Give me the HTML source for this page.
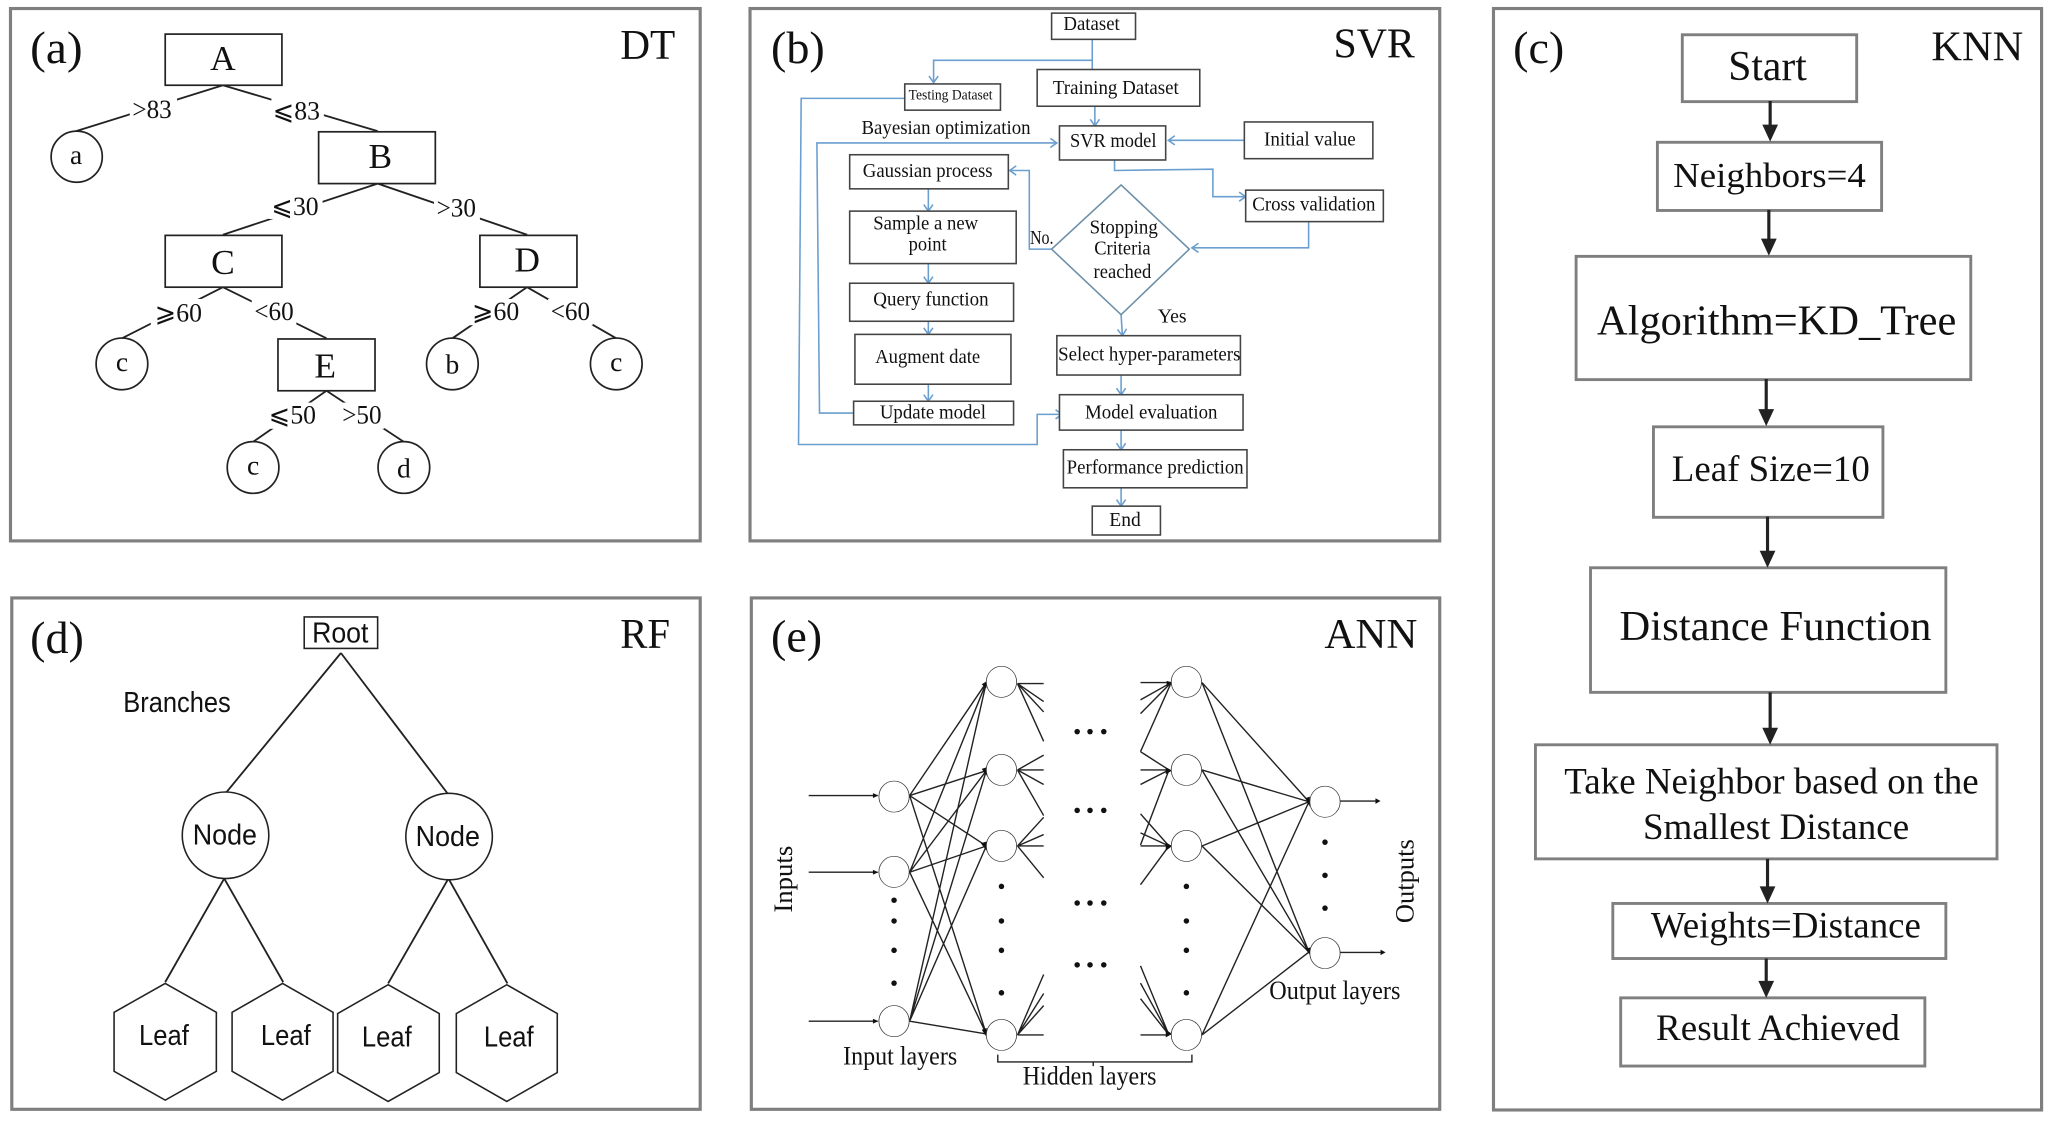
<!DOCTYPE html>
<html><head><meta charset="utf-8"><title>Model diagrams</title>
<style>
html,body{margin:0;padding:0;background:#fff;overflow:hidden}
svg{display:block}
text{font-family:"Liberation Serif","DejaVu Serif","Noto Serif CJK SC",serif;fill:#111}
.p{fill:none;stroke:#7f7f7f;stroke-width:2.4}
.k{fill:#fff;stroke:#7f7f7f;stroke-width:2.2}
.s{fill:#fff;stroke:#222;stroke-width:1.3}
.b{fill:#fff;stroke:#444;stroke-width:1.2}
.l{stroke:#222;stroke-width:1.4;fill:none}
.u{fill:none;stroke:#6a9fcf;stroke-width:1.2}
.n{stroke:#222;stroke-width:1.4;fill:none;vector-effect:non-scaling-stroke}
.c{fill:#fff;stroke:#333;stroke-width:1.7;vector-effect:non-scaling-stroke}
.sans{font-family:"Liberation Sans",sans-serif}
</style></head><body>
<svg xmlns="http://www.w3.org/2000/svg" width="2056" height="1121" viewBox="0 0 1568 854.9">
<defs>
<marker id="o" markerUnits="userSpaceOnUse" markerWidth="10" markerHeight="10" refX="7" refY="5" orient="auto"><path d="M2 1.5 L7 5 L2 8.5" fill="none" stroke="#6a9fcf" stroke-width="1.2"/></marker>
</defs>
<rect width="1568" height="855" fill="#fff"/>

<!-- panels -->
<rect class="p" x="8" y="6.5" width="526" height="406"/>
<rect class="p" x="572" y="6.5" width="526" height="406"/>
<rect class="p" x="1139" y="6.5" width="418" height="840"/>
<rect class="p" x="9" y="456" width="525" height="390"/>
<rect class="p" x="573" y="456" width="525" height="390"/>

<text x="23" y="48" font-size="35" textLength="40" lengthAdjust="spacingAndGlyphs">(a)</text>
<text x="473" y="45" font-size="32" textLength="42" lengthAdjust="spacingAndGlyphs">DT</text>
<text x="588" y="48" font-size="35" textLength="41" lengthAdjust="spacingAndGlyphs">(b)</text>
<text x="1017" y="44" font-size="32" textLength="62" lengthAdjust="spacingAndGlyphs">SVR</text>
<text x="1154" y="48" font-size="35" textLength="39" lengthAdjust="spacingAndGlyphs">(c)</text>
<text x="1473" y="46" font-size="32" textLength="70" lengthAdjust="spacingAndGlyphs">KNN</text>
<text x="23" y="498" font-size="35" textLength="41" lengthAdjust="spacingAndGlyphs">(d)</text>
<text x="473" y="494" font-size="32" textLength="38" lengthAdjust="spacingAndGlyphs">RF</text>
<text x="588" y="497" font-size="35" textLength="39" lengthAdjust="spacingAndGlyphs">(e)</text>
<text x="1010" y="494" font-size="32" textLength="71" lengthAdjust="spacingAndGlyphs">ANN</text>

<!-- (a) DT -->
<g class="l">
<path d="M170 65 L58 100 M170 65 L288 100 M288 140 L170 179 M288 140 L402 179 M170 219 L93 258 M170 219 L249 258 M402 219 L345 258 M402 219 L470 258 M249 298 L193 337 M249 298 L308 337"/>
</g>
<g fill="#fff">
<rect x="99" y="74" width="36" height="20"/><rect x="207" y="74" width="40" height="20"/>
<rect x="205" y="147" width="41" height="20"/><rect x="331" y="149" width="35" height="20"/>
<rect x="115" y="228" width="43" height="20"/><rect x="192" y="228" width="34" height="20"/>
<rect x="357" y="228" width="42" height="20"/><rect x="418" y="228" width="34" height="20"/>
<rect x="203" y="307" width="40" height="20"/><rect x="259" y="307" width="34" height="20"/>
</g>
<g class="s">
<rect x="126" y="26" width="89" height="39"/><rect x="243" y="100.500" width="89" height="39.500"/>
<rect x="126" y="179.500" width="89" height="39.500"/><rect x="366" y="179.500" width="74" height="39.500"/>
<rect x="212" y="258.500" width="74" height="39.500"/>
<circle cx="58.500" cy="119.500" r="19.500"/><circle cx="93" cy="277.500" r="19.700"/><circle cx="345" cy="277.500" r="19.700"/>
<circle cx="470" cy="277.500" r="19.700"/><circle cx="193" cy="356.500" r="19.700"/><circle cx="308" cy="356.500" r="19.700"/>
</g>
<g font-size="27" text-anchor="middle">
<text x="170" y="53.500">A</text><text x="290" y="128">B</text><text x="170" y="209">C</text><text x="402" y="207">D</text><text x="248" y="288">E</text>
</g>
<g font-size="21" text-anchor="middle">
<text x="58" y="125">a</text><text x="93" y="283">c</text><text x="345" y="285">b</text><text x="470" y="283">c</text><text x="193" y="362">c</text><text x="308" y="364">d</text>
</g>
<g font-size="20">
<text x="101" y="90" textLength="30" lengthAdjust="spacingAndGlyphs">&gt;83</text><text x="208" y="91" textLength="36" lengthAdjust="spacingAndGlyphs">⩽83</text>
<text x="207" y="164" textLength="36" lengthAdjust="spacingAndGlyphs">⩽30</text><text x="333" y="165" textLength="30" lengthAdjust="spacingAndGlyphs">&gt;30</text>
<text x="118" y="245" textLength="36" lengthAdjust="spacingAndGlyphs">⩾60</text><text x="194" y="244" textLength="30" lengthAdjust="spacingAndGlyphs">&lt;60</text>
<text x="360" y="244" textLength="36" lengthAdjust="spacingAndGlyphs">⩾60</text><text x="420" y="244" textLength="30" lengthAdjust="spacingAndGlyphs">&lt;60</text>
<text x="205" y="323" textLength="36" lengthAdjust="spacingAndGlyphs">⩽50</text><text x="261" y="323" textLength="30" lengthAdjust="spacingAndGlyphs">&gt;50</text>
</g>

<!-- (b) SVR -->
<g class="u">
<path d="M833 30 V53 M833 46 H712 V63" marker-end="url(#o)"/>
<path d="M690 75 H611 L609 339 H791 V316 H810" marker-end="url(#o)"/>
<path d="M835 81 V96" marker-end="url(#o)"/>
<path d="M651 315 L625 315 L623 109 H806" marker-end="url(#o)"/>
<path d="M949 107 H891" marker-end="url(#o)"/>
<path d="M850 122 V130 L925 129 V150 H950" marker-end="url(#o)"/>
<path d="M998 169 V189 H909" marker-end="url(#o)"/>
<path d="M802 190 H785 V130 H770" marker-end="url(#o)"/>
<path d="M708 144 V161" marker-end="url(#o)"/>
<path d="M708 201 V216" marker-end="url(#o)"/>
<path d="M708 245 V255" marker-end="url(#o)"/>
<path d="M708 293 V306" marker-end="url(#o)"/>
<path d="M855 240 L856 256" marker-end="url(#o)"/>
<path d="M855 286 V301" marker-end="url(#o)"/>
<path d="M855 328 V343" marker-end="url(#o)"/>
<path d="M855 372 V386" marker-end="url(#o)"/>
</g>
<polygon points="855,141 907,190 855,240 802,190" fill="#fff" stroke="#6d8fa8" stroke-width="1.2"/>
<g class="b">
<rect x="802" y="10" width="64" height="20"/><rect x="791" y="53" width="124" height="28"/>
<rect x="690" y="64" width="73" height="20"/><rect x="808" y="96" width="81" height="26"/>
<rect x="949" y="93" width="98" height="28"/><rect x="648" y="118" width="121" height="26"/>
<rect x="648" y="161" width="127" height="40"/><rect x="648" y="216" width="125" height="29"/>
<rect x="652" y="255" width="119" height="38"/><rect x="651" y="306" width="122" height="18"/>
<rect x="806" y="256" width="140" height="30"/><rect x="808" y="301" width="140" height="27"/>
<rect x="811" y="343" width="140" height="29"/><rect x="833" y="386" width="52" height="22"/>
<rect x="950" y="145" width="105" height="24"/>
</g>
<g font-size="15">
<text x="811" y="23" textLength="43" lengthAdjust="spacingAndGlyphs">Dataset</text>
<text x="803" y="71.500" textLength="96" lengthAdjust="spacingAndGlyphs">Training Dataset</text>
<text x="693" y="76" font-size="11" textLength="64" lengthAdjust="spacingAndGlyphs">Testing Dataset</text>
<text x="657" y="102" textLength="129" lengthAdjust="spacingAndGlyphs">Bayesian optimization</text>
<text x="816" y="112" textLength="66" lengthAdjust="spacingAndGlyphs">SVR model</text>
<text x="964" y="111" textLength="70" lengthAdjust="spacingAndGlyphs">Initial value</text>
<text x="658" y="135" textLength="99" lengthAdjust="spacingAndGlyphs">Gaussian process</text>
<text x="666" y="175" textLength="80" lengthAdjust="spacingAndGlyphs">Sample a new</text>
<text x="693" y="191" textLength="29" lengthAdjust="spacingAndGlyphs">point</text>
<text x="666" y="233" textLength="88" lengthAdjust="spacingAndGlyphs">Query function</text>
<text x="955" y="160.500" textLength="94" lengthAdjust="spacingAndGlyphs">Cross validation</text>
<text x="785.500" y="186" textLength="18" lengthAdjust="spacingAndGlyphs">No.</text>
<text x="831" y="178" textLength="52" lengthAdjust="spacingAndGlyphs">Stopping</text>
<text x="834.500" y="194" textLength="43" lengthAdjust="spacingAndGlyphs">Criteria</text>
<text x="834" y="212" textLength="44" lengthAdjust="spacingAndGlyphs">reached</text>
<text x="883" y="246" textLength="22" lengthAdjust="spacingAndGlyphs">Yes</text>
<text x="667.500" y="277" textLength="80" lengthAdjust="spacingAndGlyphs">Augment date</text>
<text x="807" y="275" textLength="139" lengthAdjust="spacingAndGlyphs">Select hyper-parameters</text>
<text x="671" y="319" textLength="81" lengthAdjust="spacingAndGlyphs">Update model</text>
<text x="827.500" y="319" textLength="101" lengthAdjust="spacingAndGlyphs">Model evaluation</text>
<text x="813.500" y="361" textLength="135" lengthAdjust="spacingAndGlyphs">Performance prediction</text>
<text x="846" y="401" textLength="24" lengthAdjust="spacingAndGlyphs">End</text>
</g>

<!-- (c) KNN -->
<g class="k">
<rect x="1283" y="26.500" width="133" height="51"/><rect x="1264" y="108.500" width="171" height="52"/>
<rect x="1202" y="195.500" width="301" height="94"/><rect x="1261" y="325.500" width="175" height="69"/>
<rect x="1213" y="433" width="271" height="95"/><rect x="1171" y="568" width="352" height="87"/>
<rect x="1230" y="689" width="254" height="42"/><rect x="1236" y="761" width="232" height="52"/>
</g>
<g stroke="#222" stroke-width="2.4" fill="#222">
<path d="M1350 77 V96 M1349 160 V183 M1347 289 V313 M1348 394 V421 M1350 528 V556 M1348 655 V677 M1347 731 V749"/>
</g>
<g fill="#222">
<polygon points="1344,95 1356,95 1350,108"/><polygon points="1343,182 1355,182 1349,195"/>
<polygon points="1341,312 1353,312 1347,325"/><polygon points="1342,420 1354,420 1348,433"/>
<polygon points="1344,555 1356,555 1350,568"/><polygon points="1342,676 1354,676 1348,689"/>
<polygon points="1341,748 1353,748 1347,761"/>
</g>
<text x="1318" y="61" font-size="32" textLength="60" lengthAdjust="spacingAndGlyphs">Start</text>
<text x="1276" y="142.500" font-size="27" textLength="147" lengthAdjust="spacingAndGlyphs">Neighbors=4</text>
<text x="1218" y="255" font-size="32" textLength="274" lengthAdjust="spacingAndGlyphs">Algorithm=KD_Tree</text>
<text x="1275" y="367" font-size="28" textLength="151" lengthAdjust="spacingAndGlyphs">Leaf Size=10</text>
<text x="1235" y="488" font-size="32" textLength="238" lengthAdjust="spacingAndGlyphs">Distance Function</text>
<text x="1193" y="605" font-size="28" textLength="316" lengthAdjust="spacingAndGlyphs">Take Neighbor based on the</text>
<text x="1253" y="640" font-size="28" textLength="203" lengthAdjust="spacingAndGlyphs">Smallest Distance</text>
<text x="1259" y="715" font-size="28" textLength="206" lengthAdjust="spacingAndGlyphs">Weights=Distance</text>
<text x="1263" y="793" font-size="28" textLength="186" lengthAdjust="spacingAndGlyphs">Result Achieved</text>

<!-- (d) RF -->
<g class="l" stroke-width="1.2">
<path d="M260 498 L172 605 M260 498 L342 606 M171 670 L126 749 M171 670 L216 749 M342 670 L296 750 M342 670 L387 750"/>
</g>
<rect x="232" y="470.500" width="56" height="24" fill="#fff" stroke="#222" stroke-width="1.2"/>
<g fill="#fff" stroke="#222" stroke-width="1.2">
<ellipse cx="172" cy="637" rx="33" ry="33"/><ellipse cx="342.500" cy="638" rx="33" ry="33"/>
<polygon points="126,750 165,772 165,817 126,839 87,817 87,772"/>
<polygon points="215.500,750 254,772 254,817 215.500,839 177,817 177,772"/>
<polygon points="296,751 335,773 335,818 296,840 257.500,818 257.500,773"/>
<polygon points="386.500,751 425,773 425,818 386.500,840 348,818 348,773"/>
</g>
<g class="sans" font-size="22" fill="#222">
<text class="sans" x="238" y="490" textLength="43" lengthAdjust="spacingAndGlyphs">Root</text>
<text class="sans" x="94" y="543" textLength="82" lengthAdjust="spacingAndGlyphs">Branches</text>
<text class="sans" x="147" y="644" textLength="49" lengthAdjust="spacingAndGlyphs">Node</text>
<text class="sans" x="317" y="645" textLength="49" lengthAdjust="spacingAndGlyphs">Node</text>
<text class="sans" x="106" y="797" textLength="38" lengthAdjust="spacingAndGlyphs">Leaf</text>
<text class="sans" x="199" y="797" textLength="38" lengthAdjust="spacingAndGlyphs">Leaf</text>
<text class="sans" x="276" y="798" textLength="38" lengthAdjust="spacingAndGlyphs">Leaf</text>
<text class="sans" x="369" y="798" textLength="38" lengthAdjust="spacingAndGlyphs">Leaf</text>
</g>

<!-- (e) ANN : zoom coordinates mapped to page -->
<g transform="translate(564.25,442.8) scale(.35,.2635)">
<path class="n" d="
M150 622 H300 M150 844 H300 M150 1275 H300
M370 622 L537 295 M370 622 L537 550 M370 622 L537 768 M370 622 L537 1312
M370 844 L537 295 M370 844 L537 550 M370 844 L537 768 M370 844 L537 1312
M370 1275 L537 295 M370 1275 L537 550 M370 1275 L537 768 M370 1275 L537 1312
M605 298 H662 M605 298 L662 350 M605 298 L662 380 M605 298 L662 465
M605 548 L662 505 M605 548 H662 M605 548 L662 590 M605 548 L662 680
M605 768 L662 685 M605 768 L662 735 M605 768 H662 M605 768 L662 860
M605 1315 L662 1140 M605 1315 L662 1195 M605 1315 L662 1230 M605 1315 H662
M873 295 H940 M873 345 L940 295 M873 385 L940 295 M873 495 L940 295
M873 495 L935 548 M873 548 H935 M873 590 L935 548 M873 765 L935 548
M873 675 L935 768 M873 730 L935 768 M873 768 H935 M873 880 L935 768
M873 1115 L935 1315 M873 1165 L935 1315 M873 1210 L935 1315 M873 1315 H935
M1007 295 L1240 640 M1007 548 L1240 640 M1007 768 L1240 640 M1007 1315 L1240 640
M1007 295 L1240 1075 M1007 548 L1240 1075 M1007 768 L1240 1075 M1007 1315 L1240 1075
M1308 638 H1388 M1308 1076 H1398
M562 1372 V1393 H985 V1372 M770 1393 V1405"/>
<g fill="#111">
<polygon points="290,615 302,622 290,629"/><polygon points="290,837 302,844 290,851"/><polygon points="290,1268 302,1275 290,1282"/>
<polygon points="1385,630 1396,638 1385,646"/><polygon points="1396,1068 1407,1076 1396,1084"/>
<polygon points="527,300 537,292 537,312"/><polygon points="527,545 538,540 538,565"/><polygon points="525,760 538,755 538,782"/><polygon points="527,1300 538,1295 538,1322"/>
<polygon points="930,290 942,295 930,305"/><polygon points="928,540 942,550 928,560"/><polygon points="928,758 942,768 928,782"/><polygon points="928,1300 942,1312 928,1322"/>
<polygon points="1232,630 1242,625 1242,655"/><polygon points="1232,1065 1243,1062 1243,1085"/>
</g>
<g class="c">
<ellipse cx="336" cy="625" rx="33" ry="45"/><ellipse cx="336" cy="843" rx="33" ry="45"/><ellipse cx="336" cy="1275" rx="33" ry="45"/>
<ellipse cx="570" cy="293" rx="33" ry="45"/><ellipse cx="570" cy="548" rx="33" ry="45"/><ellipse cx="570" cy="768" rx="33" ry="45"/><ellipse cx="570" cy="1315" rx="33" ry="45"/>
<ellipse cx="973" cy="293" rx="33" ry="45"/><ellipse cx="973" cy="548" rx="33" ry="45"/><ellipse cx="973" cy="768" rx="33" ry="45"/><ellipse cx="973" cy="1315" rx="33" ry="45"/>
<ellipse cx="1275" cy="640" rx="33" ry="45"/><ellipse cx="1275" cy="1078" rx="33" ry="45"/>
</g>
<g fill="#111">
<ellipse cx="336" cy="925" rx="6" ry="8"/><ellipse cx="336" cy="985" rx="6" ry="8"/><ellipse cx="336" cy="1070" rx="6" ry="8"/><ellipse cx="336" cy="1165" rx="6" ry="8"/>
<ellipse cx="570" cy="885" rx="6" ry="8"/><ellipse cx="570" cy="985" rx="6" ry="8"/><ellipse cx="570" cy="1070" rx="6" ry="8"/><ellipse cx="570" cy="1193" rx="6" ry="8"/>
<ellipse cx="973" cy="885" rx="6" ry="8"/><ellipse cx="973" cy="985" rx="6" ry="8"/><ellipse cx="973" cy="1070" rx="6" ry="8"/><ellipse cx="973" cy="1193" rx="6" ry="8"/>
<ellipse cx="1275" cy="757" rx="6" ry="8"/><ellipse cx="1275" cy="853" rx="6" ry="8"/><ellipse cx="1275" cy="948" rx="6" ry="8"/>
<ellipse cx="735" cy="437" rx="6" ry="8"/><ellipse cx="763" cy="437" rx="6" ry="8"/><ellipse cx="793" cy="437" rx="6" ry="8"/>
<ellipse cx="735" cy="665" rx="6" ry="8"/><ellipse cx="763" cy="665" rx="6" ry="8"/><ellipse cx="793" cy="665" rx="6" ry="8"/>
<ellipse cx="735" cy="933" rx="6" ry="8"/><ellipse cx="763" cy="933" rx="6" ry="8"/><ellipse cx="793" cy="933" rx="6" ry="8"/>
<ellipse cx="735" cy="1112" rx="6" ry="8"/><ellipse cx="763" cy="1112" rx="6" ry="8"/><ellipse cx="793" cy="1112" rx="6" ry="8"/>
</g>
</g>
<g font-size="20">
<text x="643" y="812" textLength="87" lengthAdjust="spacingAndGlyphs">Input layers</text>
<text x="780" y="827" textLength="102" lengthAdjust="spacingAndGlyphs">Hidden layers</text>
<text x="968" y="762" textLength="100" lengthAdjust="spacingAndGlyphs">Output layers</text>
<text transform="translate(604,696) rotate(-90)" textLength="51" lengthAdjust="spacingAndGlyphs">Inputs</text>
<text transform="translate(1078,704) rotate(-90)" textLength="64" lengthAdjust="spacingAndGlyphs">Outputs</text>
</g>
</svg>
</body></html>
